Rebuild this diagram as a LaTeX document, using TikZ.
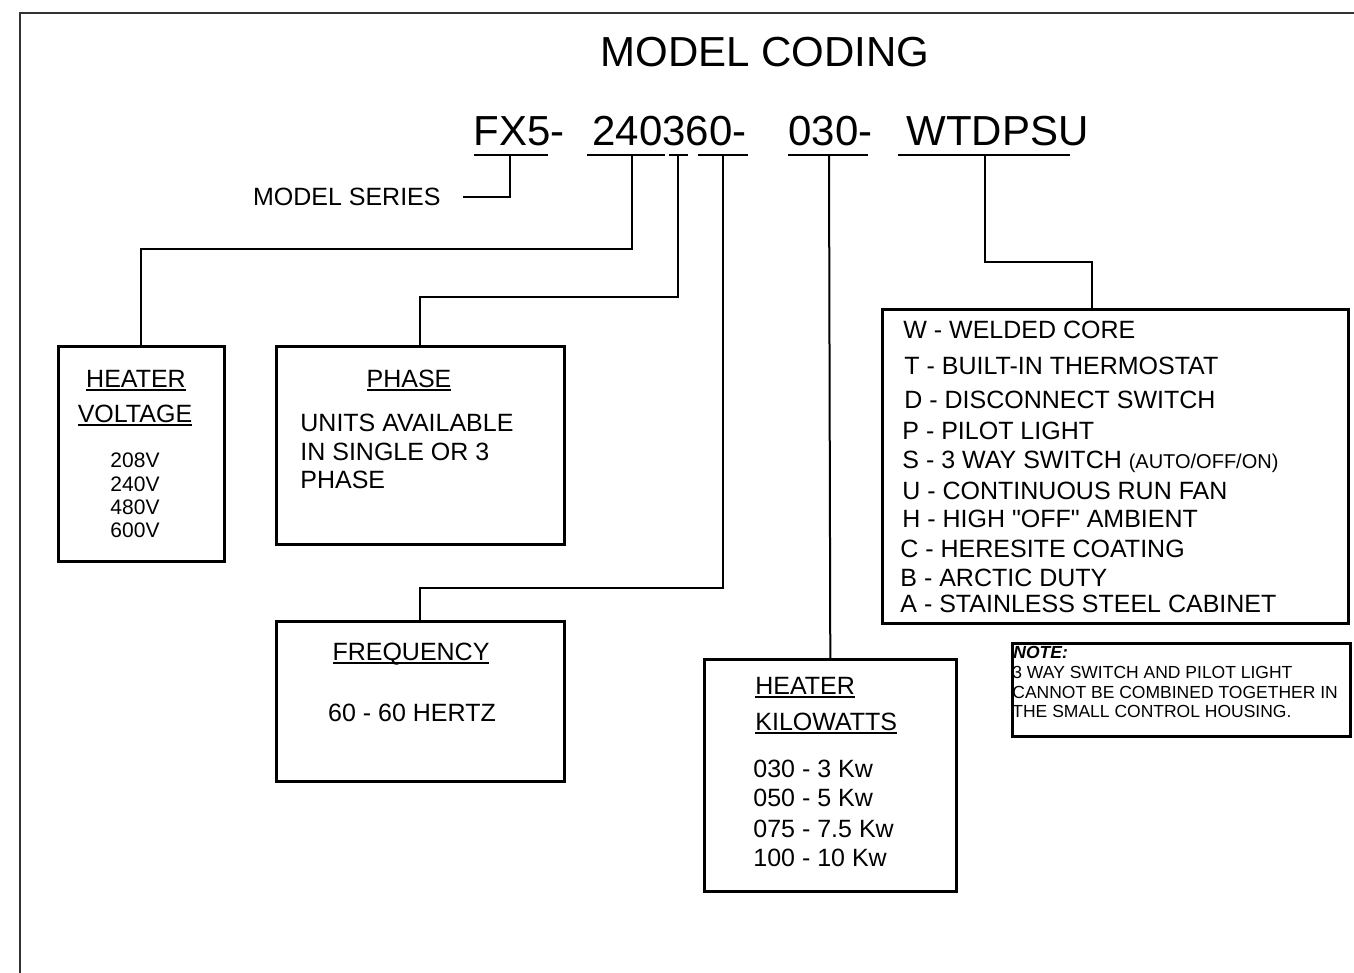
\documentclass[tikz,border=0pt]{standalone}
\usepackage{fontspec}
\setmainfont{Liberation Sans}
\newfontfamily\qfont{Liberation Sans}
\newcommand\myul[1]{\setbox0\hbox{#1}\rlap{\rule[-1.9pt]{\wd0}{1pt}}\box0}
\begin{document}
\begin{tikzpicture}[x=0.5pt,y=-0.5pt,
  box/.style={draw, line width=1.3pt, inner sep=0pt, anchor=north west},
  wire/.style={line width=1pt},
  txt/.style={inner sep=0pt, font=\fontsize{12.5}{15}\selectfont},
  small/.style={inner sep=0pt, font=\fontsize{10.5}{12}\selectfont},
  notetxt/.style={inner sep=0pt, font=\fontsize{8.75}{10}\selectfont, anchor=base west},
  code/.style={inner sep=0pt, font=\fontsize{21}{25}\selectfont, anchor=base west},
  frame/.style={line width=1pt, draw=black!80}]
\useasboundingbox (0,0) rectangle (1354,973);
% frame
\draw[frame] (20,973) -- (20,13) -- (1354,13);
% title and code
\node[inner sep=0pt, font=\fontsize{21}{25}\selectfont, anchor=base] (title) at (765,67) {MODEL CODING};
\node[code] (c1) at (473,146) {FX5-};
\node[code] (c2) at (592,146) {240360-};
\node[code] (c3) at (788,146) {030-};
\node[code] (c4) at (906,146) {WTDPSU};
% underline segments
\coordinate (u1a) at (474,155); \coordinate (u1b) at (548,155);
\coordinate (u2a) at (587,155); \coordinate (u2b) at (665,155);
\coordinate (u3a) at (669,155); \coordinate (u3b) at (688,155);
\coordinate (u4a) at (698,155); \coordinate (u4b) at (748,155);
\coordinate (u5a) at (788,155); \coordinate (u5b) at (868,155);
\coordinate (u6a) at (898,155); \coordinate (u6b) at (1070,155);
\foreach \s in {1,...,6} {\draw[wire] (u\s a) -- (u\s b);}
\coordinate (t1) at (510,155);
\coordinate (t2) at (632,155);
\coordinate (t3) at (678,155);
\coordinate (t4) at (723,155);
\coordinate (t5) at (829,155);
\coordinate (t6) at (985,155);
% model series
\node[txt, anchor=base east] (ms) at (441,206) {MODEL SERIES};
\draw[wire] (t1) |- ([xshift=11pt]ms.east);
% boxes
\node[box, minimum width=83pt, minimum height=107.5pt] (hv) at (57,345) {};
\node[box, minimum width=144pt, minimum height=99pt] (ph) at (275,345) {};
\node[box, minimum width=144pt, minimum height=80pt] (fr) at (275,620) {};
\node[box, minimum width=126pt, minimum height=116pt] (kw) at (703,658) {};
\node[box, minimum width=233pt, minimum height=157pt] (op) at (881,308) {};
\node[box, minimum width=169pt, minimum height=46.5pt] (nt) at (1011,642) {};
% connectors
\draw[wire] (t2) -- ++(0,94) -| (hv.north);
\draw[wire] (t3) -- ++(0,142) -| (ph.north);
\draw[wire] (t4) -- ++(0,433) -| (fr.north);
\draw[wire] (t5) -- (kw.north);
\draw[wire] (t6) -- ++(0,107) -| ([xshift=105.5pt]op.north west);
% heater voltage
\node[txt, anchor=base] (hv1) at (136,387) {\myul{HEATER}};
\node[txt, anchor=base] (hv2) at (135,422) {\myul{VOLTAGE}};
\node[small, anchor=base] (hv3) at (135,467) {208V};
\node[small, anchor=base] (hv4) at (135,491) {240V};
\node[small, anchor=base] (hv5) at (135,514) {480V};
\node[small, anchor=base] (hv6) at (135,537) {600V};
% phase
\node[txt, anchor=base] (ph1) at (409,387) {\myul{PHASE}};
\node[txt, anchor=base west] (ph2) at (300,431) {UNITS AVAILABLE};
\node[txt, anchor=base west] (ph3) at (300,460) {IN SINGLE OR 3};
\node[txt, anchor=base west] (ph4) at (300,488) {PHASE};
% frequency
\node[txt, anchor=base] (fr1) at (411,660) {\myul{FREQUENCY}};
\node[txt, anchor=base] (fr2) at (412,721) {60 - 60 HERTZ};
% kilowatts
\node[txt, anchor=base west] (kw1) at (755,694) {\myul{HEATER}};
\node[txt, anchor=base west] (kw2) at (755,730) {\myul{KILOWATTS}};
\node[txt, anchor=base west] (kw3) at (753,777) {030 - 3 Kw};
\node[txt, anchor=base west] (kw4) at (753,806) {050 - 5 Kw};
\node[txt, anchor=base west] (kw5) at (753,837) {075 - 7.5 Kw};
\node[txt, anchor=base west] (kw6) at (753,866) {100 - 10 Kw};
% options
\node[txt, anchor=base west] (o1) at (903,338) {W - WELDED CORE};
\node[txt, anchor=base west] (o2) at (904,374) {T - BUILT-IN THERMOSTAT};
\node[txt, anchor=base west] (o3) at (904,408) {D - DISCONNECT SWITCH};
\node[txt, anchor=base west] (o4) at (902,439) {P - PILOT LIGHT};
\node[txt, anchor=base west] (o5) at (902,468) {S - 3 WAY SWITCH {\fontsize{10}{12}\selectfont(AUTO/OFF/ON)}};
\node[txt, anchor=base west] (o6) at (902,499) {U - CONTINUOUS RUN FAN};
\node[txt, anchor=base west] (o7) at (902,527) {\qfont H - HIGH "OFF" AMBIENT};
\node[txt, anchor=base west] (o8) at (900,557) {C - HERESITE COATING};
\node[txt, anchor=base west] (o9) at (900,586) {B - ARCTIC DUTY};
\node[txt, anchor=base west] (o10) at (900,612) {A - STAINLESS STEEL CABINET};
% note
\node[notetxt] (n1) at (1013,658) {\bfseries\itshape NOTE:};
\node[notetxt] (n2) at (1012,678) {3 WAY SWITCH AND PILOT LIGHT};
\node[notetxt] (n3) at (1012,698) {CANNOT BE COMBINED TOGETHER IN};
\node[notetxt] (n4) at (1012,717) {THE SMALL CONTROL HOUSING.};
\end{tikzpicture}
\end{document}
